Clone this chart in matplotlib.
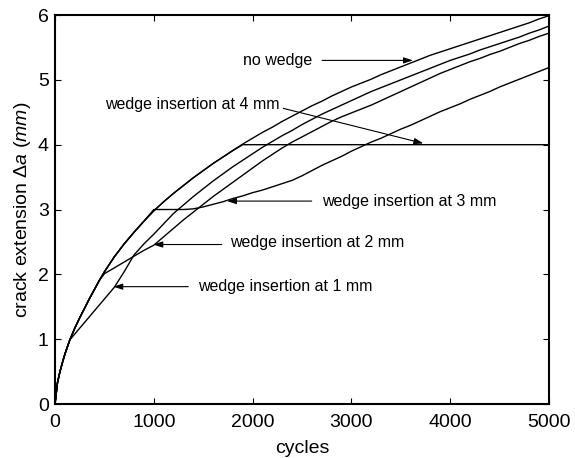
import matplotlib
matplotlib.use("Agg")
import matplotlib.pyplot as plt

# ******************************************************************

plt.rcParams['font.family'] = ['Liberation Sans', 'DejaVu Sans']
plt.rcParams['mathtext.fontset'] = 'custom'
plt.rcParams['mathtext.rm'] = 'Liberation Sans'
plt.rcParams['mathtext.it'] = 'Liberation Sans:italic'

cycles = [0, 25, 50, 75, 100, 125, 150, 200, 250, 300, 350, 400, 450] + list(range(500, 5001, 100))

no_wedge = [0, 0.33, 0.50, 0.64, 0.77, 0.88, 0.99, 1.17, 1.33, 1.48, 1.63, 1.77, 1.91, 2.04,
            2.27, 2.47, 2.65, 2.82, 2.98, 3.12, 3.25, 3.37, 3.49, 3.60, 3.71, 3.81, 3.91, 4.01,
            4.10, 4.19, 4.27, 4.36, 4.44, 4.52, 4.60, 4.67, 4.75, 4.82, 4.89, 4.95, 5.01, 5.08,
            5.14, 5.20, 5.26, 5.32, 5.38, 5.43, 5.48, 5.53, 5.58, 5.63, 5.68, 5.73, 5.78, 5.83,
            5.88, 5.94, 5.99]

wedge_1mm = [0, 0.33, 0.50, 0.64, 0.77, 0.88, 0.99, 1.08, 1.17, 1.26, 1.35, 1.44, 1.53, 1.62,
             1.80, 2.04, 2.30, 2.47, 2.62, 2.78, 2.94, 3.07, 3.20, 3.32, 3.44, 3.55, 3.66, 3.76,
             3.86, 3.96, 4.05, 4.14, 4.22, 4.31, 4.39, 4.47, 4.54, 4.61, 4.68, 4.75, 4.82, 4.88,
             4.94, 5.00, 5.06, 5.12, 5.18, 5.24, 5.30, 5.35, 5.40, 5.46, 5.51, 5.56, 5.61, 5.66,
             5.72, 5.77, 5.83]

wedge_2mm = [0, 0.33, 0.50, 0.64, 0.77, 0.88, 0.99, 1.17, 1.33, 1.48, 1.63, 1.77, 1.91, 2.01,
             2.10, 2.19, 2.28, 2.37, 2.45, 2.58, 2.71, 2.84, 2.96, 3.08, 3.20, 3.31, 3.42, 3.53,
             3.64, 3.75, 3.85, 3.95, 4.04, 4.12, 4.20, 4.28, 4.36, 4.43, 4.49, 4.55, 4.61, 4.68,
             4.75, 4.82, 4.89, 4.96, 5.03, 5.10, 5.16, 5.22, 5.28, 5.33, 5.39, 5.44, 5.50, 5.56,
             5.61, 5.67, 5.72]

wedge_3mm = [0, 0.33, 0.50, 0.64, 0.77, 0.88, 0.99, 1.17, 1.33, 1.48, 1.63, 1.77, 1.91, 2.04,
             2.27, 2.47, 2.65, 2.82, 3.00, 3.00, 3.00, 3.00, 3.01, 3.04, 3.08, 3.12, 3.17, 3.21,
             3.26, 3.30, 3.35, 3.40, 3.45, 3.52, 3.60, 3.68, 3.75, 3.82, 3.90, 3.97, 4.04, 4.10,
             4.17, 4.24, 4.30, 4.37, 4.44, 4.51, 4.57, 4.63, 4.70, 4.76, 4.82, 4.89, 4.95, 5.01,
             5.07, 5.13, 5.19]

wedge_4mm = [0, 0.33, 0.50, 0.64, 0.77, 0.88, 0.99, 1.17, 1.33, 1.48, 1.63, 1.77, 1.91, 2.04,
             2.27, 2.47, 2.65, 2.82, 2.98, 3.12, 3.25, 3.37, 3.49, 3.60, 3.71, 3.81, 3.91, 4.00,
             4.00, 4.00, 4.00, 4.00, 4.00, 4.00, 4.00, 4.00, 4.00, 4.00, 4.00, 4.00, 4.00, 4.00,
             4.00, 4.00, 4.00, 4.00, 4.00, 4.00, 4.00, 4.00, 4.00, 4.00, 4.00, 4.00, 4.00, 4.00,
             4.00, 4.00, 4.00]

x_ticks = [0, 1000, 2000, 3000, 4000, 5000]
y_ticks = [0, 1, 2, 3, 4, 5, 6]

# ******************************************************************

fig = plt.figure(figsize=(5.75, 4.58), dpi=100)
ax = fig.add_axes([0.0957, 0.1179, 0.8591, 0.8493])

for curve in [wedge_4mm, wedge_3mm, wedge_2mm, wedge_1mm, no_wedge]:
    ax.plot(cycles, curve, color='k', lw=1.0)

ax.set_xlim(0, 5000)
ax.set_ylim(0, 6)
ax.set_xticks(x_ticks)
ax.set_yticks(y_ticks)
ax.tick_params(direction='in', length=4, width=0.8, labelsize=14,
               top=True, right=True)
ax.tick_params(axis='x', pad=7)
ax.tick_params(axis='y', pad=4.5)
for s in ax.spines.values():
    s.set_linewidth(1.5)

ax.set_xlabel('cycles', fontsize=14)
ax.set_ylabel(r'crack extension $\Delta\mathit{a\ (mm)}$', fontsize=14)
ax.xaxis.set_label_coords(0.5, -0.093)
ax.yaxis.set_label_coords(-0.045, 0.5)

arrow = dict(arrowstyle='-|>,head_length=0.55,head_width=0.18', color='k', lw=0.8,
             mutation_scale=10, shrinkA=0, shrinkB=0)
fs = 11.5

ax.text(1903, 5.30, 'no wedge', fontsize=fs, va='center', ha='left')
ax.annotate('', xy=(3623, 5.30), xytext=(2703, 5.30), arrowprops=arrow)

ax.text(506, 4.62, 'wedge insertion at 4 mm', fontsize=fs, va='center', ha='left')
ax.annotate('', xy=(3728, 4.02), xytext=(2311, 4.56), arrowprops=arrow)

ax.text(2703, 3.13, 'wedge insertion at 3 mm', fontsize=fs, va='center', ha='left')
ax.annotate('', xy=(1741, 3.13), xytext=(2598, 3.13), arrowprops=arrow)

ax.text(1771, 2.49, 'wedge insertion at 2 mm', fontsize=fs, va='center', ha='left')
ax.annotate('', xy=(995, 2.46), xytext=(1687, 2.46), arrowprops=arrow)

ax.text(1447, 1.81, 'wedge insertion at 1 mm', fontsize=fs, va='center', ha='left')
ax.annotate('', xy=(590, 1.81), xytext=(1349, 1.81), arrowprops=arrow)

fig.savefig('out.png', dpi=100)
